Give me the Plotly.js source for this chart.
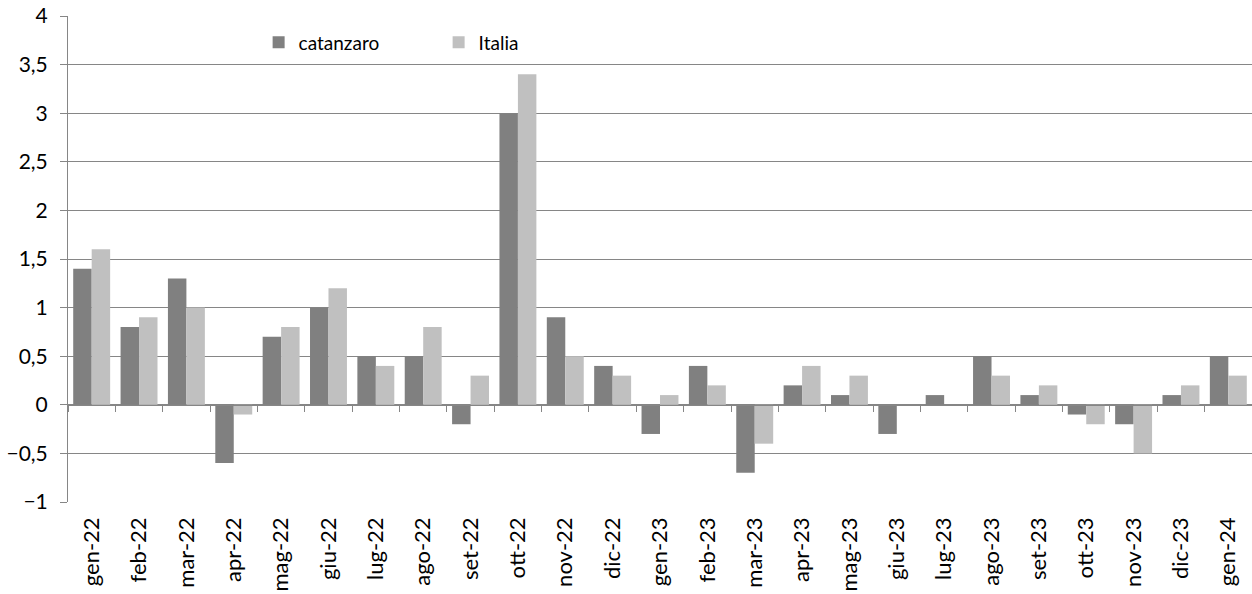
<!DOCTYPE html>
<html>
<head>
<meta charset="utf-8">
<script src="https://cdn.plot.ly/plotly-3.0.1.min.js"></script>
<style>html,body{margin:0;padding:0;background:#fff;}#chart{width:1252px;height:594px;}</style>
</head>
<body>
<div id="chart"></div>
<script>
const categories = ["gen-22","feb-22","mar-22","apr-22","mag-22","giu-22","lug-22","ago-22","set-22","ott-22","nov-22","dic-22",
  "gen-23","feb-23","mar-23","apr-23","mag-23","giu-23","lug-23","ago-23","set-23","ott-23","nov-23","dic-23","gen-24"];
const catanzaro = [1.4,0.8,1.3,-0.6,0.7,1.0,0.5,0.5,-0.2,3.0,0.9,0.4,-0.3,0.4,-0.7,0.2,0.1,-0.3,0.1,0.5,0.1,-0.1,-0.2,0.1,0.5];
const italia = [1.6,0.9,1.0,-0.1,0.8,1.2,0.4,0.8,0.3,3.4,0.5,0.3,0.1,0.2,-0.4,0.4,0.3,0.0,0.0,0.3,0.2,-0.2,-0.5,0.2,0.3];
const yRange = [-1, 4];
const fontFam = "Lato, 'Open Sans', sans-serif";

const traces = [
  {type:'bar', name:'catanzaro', x:categories, y:catanzaro, marker:{color:'#808080'}, hoverinfo:'x+y'},
  {type:'bar', name:'Italia', x:categories, y:italia, marker:{color:'#c0c0c0'}, hoverinfo:'x+y'},
  {type:'scatter', mode:'markers', x:categories, y:categories.map(()=>0), xaxis:'x2', yaxis:'y',
   marker:{opacity:0}, showlegend:false, hoverinfo:'skip'}
];

const zeroPos = (0 - yRange[0]) / (yRange[1] - yRange[0]);
const xRange = [-0.5, categories.length - 0.5];

const layout = {
  width:1252, height:594,
  margin:{l:68, r:0, t:16, b:92},
  paper_bgcolor:'#fff', plot_bgcolor:'#fff',
  separators:',.',
  barmode:'group', bargap:0.22, bargroupgap:0,
  font:{family:fontFam, size:20, color:'#000'},
  showlegend:true,
  legend:{orientation:'h', x:0.161, xanchor:'left', y:0.985, yanchor:'top',
    font:{family:fontFam, size:19, color:'#000'}, entrywidth:135, entrywidthmode:'pixels',
    itemwidth:30, bgcolor:'rgba(0,0,0,0)', traceorder:'normal'},
  xaxis:{type:'category', range:xRange, autorange:false, showgrid:false, zeroline:false, showline:false, ticks:'',
    tickangle:-90, tickfont:{family:fontFam, size:22, color:'#000'}, ticklabelstandoff:10, automargin:false},
  xaxis2:{type:'category', range:xRange, autorange:false, overlaying:'x', anchor:'free', position:zeroPos, side:'bottom',
    showticklabels:false, showgrid:false, zeroline:false, showline:true, linecolor:'#868686', linewidth:1,
    ticks:'outside', tickson:'boundaries', ticklen:6, tickcolor:'#868686', tickwidth:1},
  yaxis:{range:yRange, dtick:0.5, tick0:0, showgrid:true, gridcolor:'#868686', gridwidth:1,
    zeroline:false, showline:true, linecolor:'#868686', linewidth:1, ticks:'outside', ticklen:7,
    tickcolor:'#868686', tickfont:{family:fontFam, size:21, color:'#000'}, ticklabelstandoff:8, automargin:false}
};

Plotly.newPlot('chart', traces, layout, {displayModeBar:false, staticPlot:true});
</script>
</body>
</html>
